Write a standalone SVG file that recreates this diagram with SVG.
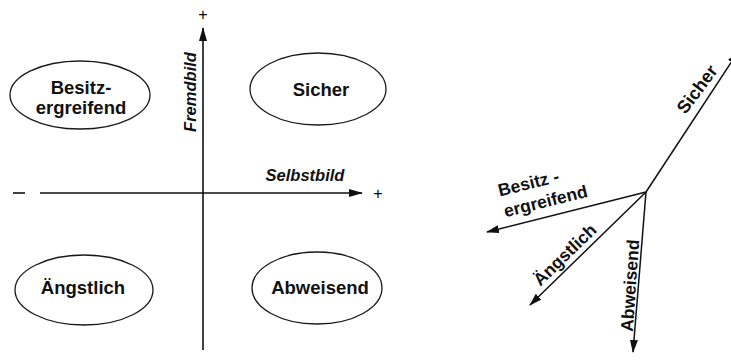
<svg xmlns="http://www.w3.org/2000/svg" width="731" height="360" viewBox="0 0 731 360">
<style>
.bg{fill:#ffffff}
.ell{fill:none;stroke:#1a1a1a;stroke-width:1.3}
.lbl{font-family:"Liberation Sans",Arial,sans-serif;font-weight:bold;font-size:18.5px;fill:#111;text-anchor:middle}
.ax{font-family:"Liberation Sans",Arial,sans-serif;font-weight:bold;font-style:italic;font-size:16.5px;fill:#111;text-anchor:middle}
.pm{font-family:"Liberation Sans",Arial,sans-serif;font-size:16px;fill:#000;text-anchor:middle}
.axis{stroke:#111;stroke-width:1.6;fill:none}
.arr{stroke:#111;stroke-width:1.5;fill:none}
.rl{font-family:"Liberation Sans",Arial,sans-serif;font-weight:bold;font-size:17.5px;fill:#111;text-anchor:middle}
</style>
<defs>
<marker id="ah" viewBox="0 0 14 8" refX="13" refY="4" markerWidth="14" markerHeight="8" orient="auto" markerUnits="userSpaceOnUse"><path d="M0,0 L14,4 L0,8 z" fill="#111"/></marker>
<marker id="ah2" viewBox="0 0 13 8" refX="12" refY="4" markerWidth="13" markerHeight="8" orient="auto" markerUnits="userSpaceOnUse"><path d="M0,0 L13,4 L0,8 z" fill="#111"/></marker>
</defs>
<rect class="bg" x="0" y="0" width="731" height="360"/>

<g id="connectors">
<line class="axis" x1="203" y1="350" x2="203" y2="28" marker-end="url(#ah)"/>
<line class="axis" x1="13" y1="193" x2="25" y2="193"/>
<line class="axis" x1="40" y1="193" x2="362" y2="193" marker-end="url(#ah)"/>
<line class="arr" x1="646" y1="192" x2="738" y2="52" marker-end="url(#ah2)"/>
<line class="arr" x1="646" y1="192" x2="487" y2="232" marker-end="url(#ah2)"/>
<line class="arr" x1="646" y1="192" x2="530" y2="305" marker-end="url(#ah2)"/>
<line class="arr" x1="646" y1="192" x2="633" y2="352" marker-end="url(#ah2)"/>
</g>

<g id="axis-labels">
<text class="pm" x="203" y="20">+</text>
<text class="pm" x="378" y="199">+</text>
<text class="ax" x="305" y="181">Selbstbild</text>
<text class="ax" transform="translate(196,92) rotate(-90)">Fremdbild</text>
</g>

<g id="node-besitz">
<ellipse class="ell" cx="80" cy="95" rx="70" ry="34"/>
<text class="lbl" x="81" y="94">Besitz-</text>
<text class="lbl" x="81" y="114">ergreifend</text>
</g>
<g id="node-sicher">
<ellipse class="ell" cx="318" cy="89" rx="68" ry="36"/>
<text class="lbl" x="321" y="96">Sicher</text>
</g>
<g id="node-angstlich">
<ellipse class="ell" cx="84" cy="290" rx="69" ry="35"/>
<text class="lbl" x="83" y="294">Ängstlich</text>
</g>
<g id="node-abweisend">
<ellipse class="ell" cx="317" cy="288" rx="65" ry="36"/>
<text class="lbl" x="320" y="294">Abweisend</text>
</g>

<g id="vector-labels">
<text class="rl" style="font-size:18px" transform="translate(702,93) rotate(-53)">Sicher</text>
<text class="rl" transform="translate(530,189) rotate(-14)">Besitz -</text>
<text class="rl" transform="translate(547,207) rotate(-14)">ergreifend</text>
<text class="rl" transform="translate(569,259) rotate(-44)">Ängstlich</text>
<text class="rl" transform="translate(636,286) rotate(-86)">Abweisend</text>
</g>
</svg>
